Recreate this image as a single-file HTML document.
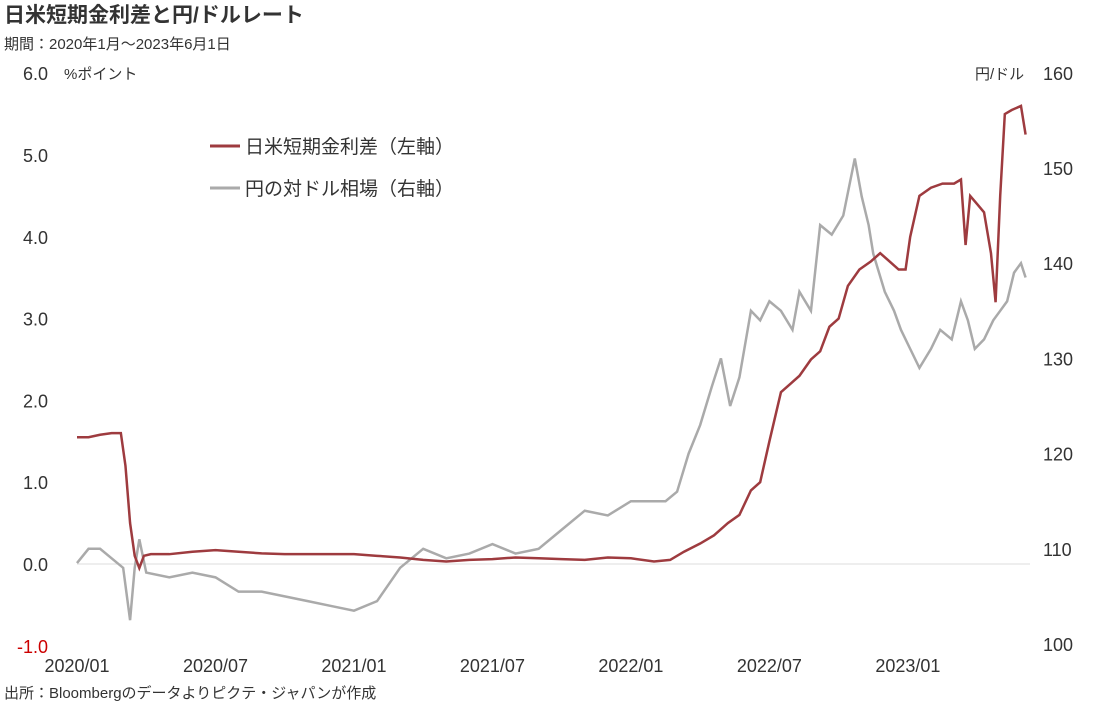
<!DOCTYPE html>
<html><head><meta charset="utf-8"><style>
body{margin:0;background:#fff;font-family:"Liberation Sans","Noto Sans CJK JP",sans-serif;}
svg text{font-family:"Liberation Sans","Noto Sans CJK JP",sans-serif;}
</style></head><body>
<svg id="c" width="1109" height="705">
<text x="4" y="22" font-size="21" font-weight="bold" fill="#333">日米短期金利差と円/ドルレート</text>
<text x="4" y="49" font-size="15" fill="#333">期間：2020年1月～2023年6月1日</text>
<text x="64" y="79" font-size="15" fill="#333">%ポイント</text>
<text x="975" y="79" font-size="15" fill="#333">円/ドル</text>
<line x1="77" y1="564" x2="1030" y2="564" stroke="#ddd" stroke-width="1"/>
<g id="lt"></g>
<g id="rt"></g>
<g id="xt"></g>
<g id="series"></g>
<g>
<line x1="210" y1="146" x2="240" y2="146" stroke="#9e3b3f" stroke-width="3"/>
<text x="245" y="153" font-size="19" fill="#333">日米短期金利差（左軸）</text>
<line x1="210" y1="188" x2="240" y2="188" stroke="#aaa" stroke-width="3"/>
<text x="245" y="195" font-size="19" fill="#333">円の対ドル相場（右軸）</text>
</g>
<text x="4" y="698" font-size="15" fill="#333">出所：Bloombergのデータよりピクテ・ジャパンが作成</text>
</svg>
<script>
const leftTicks=[6,5,4,3,2,1,0,-1];
const rightTicks=[160,150,140,130,120,110,100];
const xTickLabels=["2020/01","2020/07","2021/01","2021/07","2022/01","2022/07","2023/01"];
const xTickMonths=[0,6,12,18,24,30,36];
const spreadMonths=[0,0.5,1,1.5,1.9,2.1,2.3,2.5,2.7,2.9,3.2,4,5,6,7,8,9,10,11,12,13,14,15,16,17,18,19,20,21,22,23,24,25,25.7,26.3,27,27.6,28.2,28.7,29.2,29.6,30,30.5,30.9,31.3,31.8,32.2,32.6,33,33.4,33.9,34.4,34.8,35.2,35.6,35.9,36.1,36.5,37,37.5,38,38.3,38.5,38.7,39,39.3,39.6,39.8,40,40.2,40.5,40.9,41.1];
const spreadValues=[1.55,1.55,1.58,1.6,1.6,1.2,0.5,0.1,-0.05,0.1,0.12,0.12,0.15,0.17,0.15,0.13,0.12,0.12,0.12,0.12,0.1,0.08,0.05,0.03,0.05,0.06,0.08,0.07,0.06,0.05,0.08,0.07,0.03,0.05,0.15,0.25,0.35,0.5,0.6,0.9,1.0,1.5,2.1,2.2,2.3,2.5,2.6,2.9,3.0,3.4,3.6,3.7,3.8,3.7,3.6,3.6,4.0,4.5,4.6,4.65,4.65,4.7,3.9,4.5,4.4,4.3,3.8,3.2,4.5,5.5,5.55,5.6,5.25];
const fxMonths=[0,0.5,1,1.5,2,2.3,2.5,2.7,3,4,5,6,7,8,9,10,11,12,13,14,15,16,17,18,19,20,21,22,23,24,25,25.5,26,26.5,27,27.5,27.9,28.3,28.7,29.2,29.6,30,30.5,31,31.3,31.8,32.2,32.7,33.2,33.7,34,34.3,34.5,35,35.4,35.7,36.1,36.5,37,37.4,37.9,38.3,38.6,38.9,39.3,39.7,40,40.3,40.6,40.9,41.1];
const fxValues=[108.5,110,110,109,108,102.5,108,111,107.5,107,107.5,107,105.5,105.5,105,104.5,104,103.5,104.5,108,110,109,109.5,110.5,109.5,110,112,114,113.5,115,115,115,116,120,123,127,130,125,128,135,134,136,135,133,137,135,144,143,145,151,147,144,141,137,135,133,131,129,131,133,132,136,134,131,132,134,135,136,139,140,138.5];
const X=m=>77+m*23.08, YL=v=>564-v*81.8, YR=v=>644-(v-100)*9.52;
const NS="http://www.w3.org/2000/svg";
function mk(t,a,p){const e=document.createElementNS(NS,t);for(const k in a)e.setAttribute(k,a[k]);p.appendChild(e);return e;}
const lt=document.getElementById('lt'),rt=document.getElementById('rt'),xt=document.getElementById('xt'),sg=document.getElementById('series');
leftTicks.forEach(v=>{const e=mk('text',{x:'48',y:YL(v)+7,'font-size':'18','text-anchor':'end',fill:v<0?'#c00':'#333'},lt);e.textContent=v.toFixed(1);

});
rightTicks.forEach(v=>{const e=mk('text',{x:'1043',y:YR(v)+7,'font-size':'18',fill:'#333'},rt);e.textContent=v;

});
xTickLabels.forEach((l,i)=>{const e=mk('text',{x:X(xTickMonths[i]),y:'672','font-size':'18','text-anchor':'middle',fill:'#333'},xt);e.textContent=l;

});
const fx=mk('polyline',{points:fxMonths.map((m,i)=>X(m)+','+YR(fxValues[i])).join(' '),fill:'none',stroke:'#aaa','stroke-width':'2.5'},sg);


const sp=mk('polyline',{points:spreadMonths.map((m,i)=>X(m)+','+YL(spreadValues[i])).join(' '),fill:'none',stroke:'#9e3b3f','stroke-width':'2.5'},sg);


</script>
</body></html>
